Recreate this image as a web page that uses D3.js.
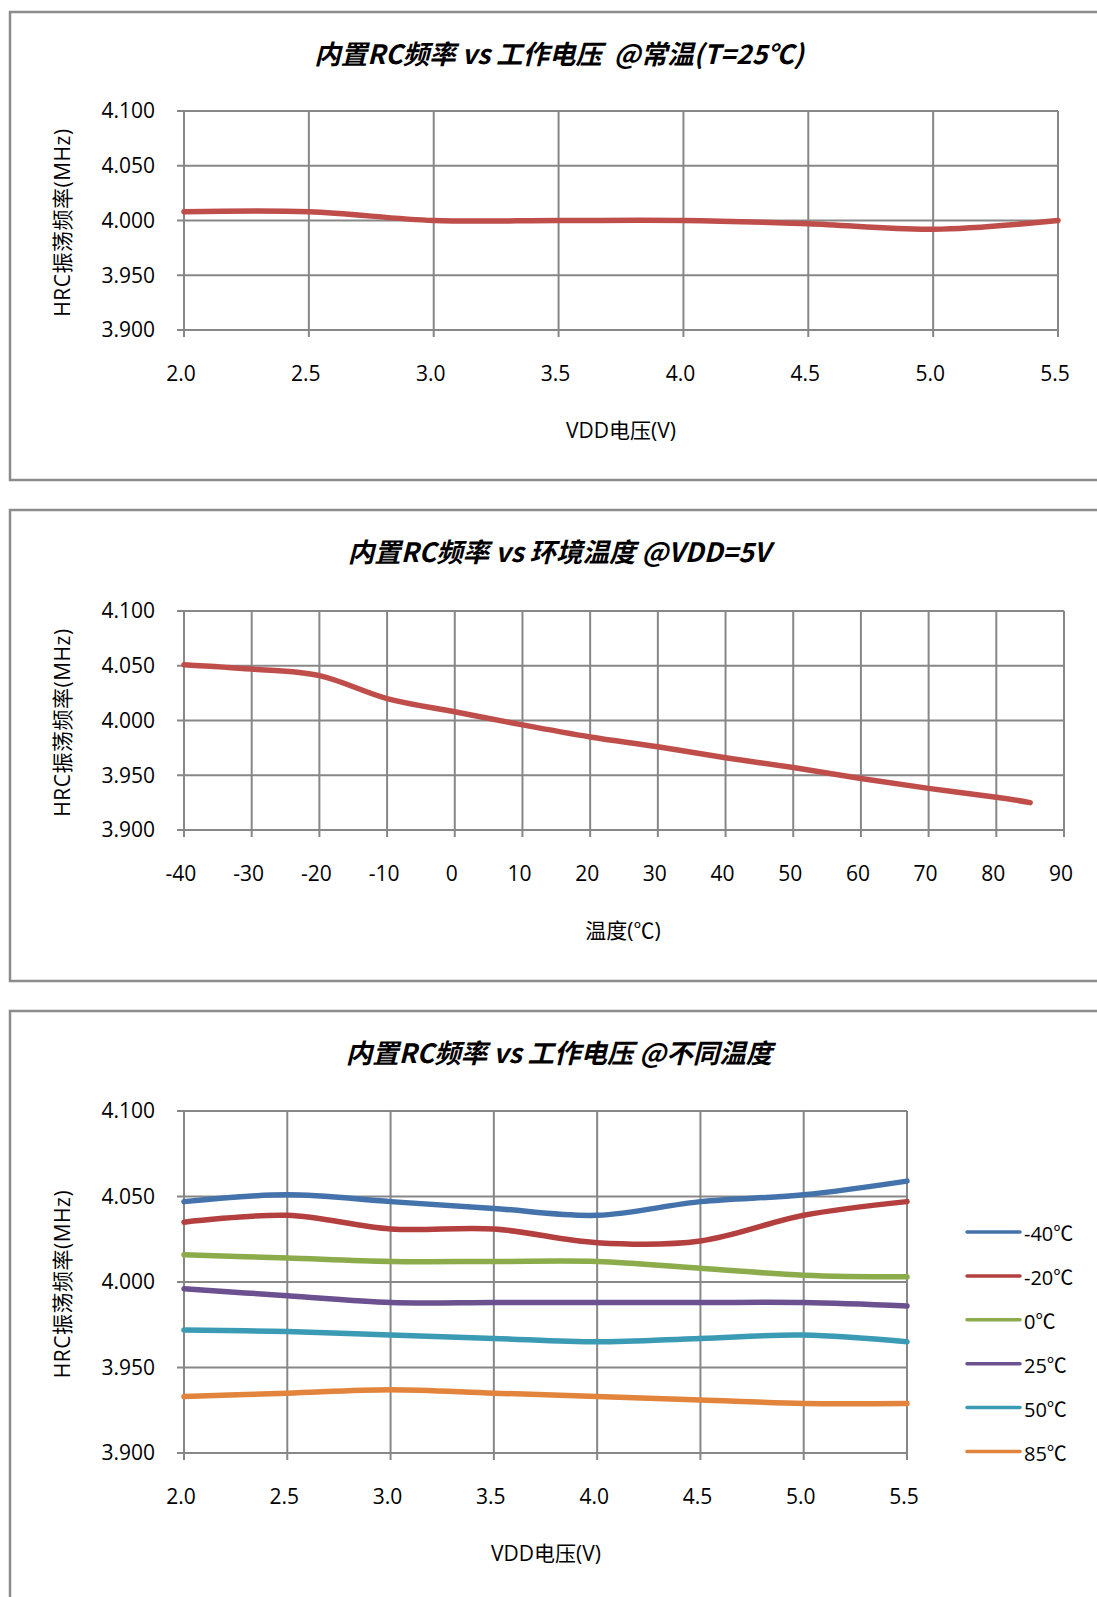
<!DOCTYPE html>
<html>
<head>
<meta charset="utf-8">
<script src="https://cdn.jsdelivr.net/npm/d3@7"></script>
<style>
    body { margin: 0; background: #ffffff; }
    svg { display: block; }
    text { white-space: pre; }
</style>
</head>
<body>
<svg id="chart"></svg>
<script>

// DATA
let vddLevels = [2.0, 2.5, 3.0, 3.5, 4.0, 4.5, 5.0, 5.5]
let freqRoomTemp = [4.008, 4.008, 4.000, 4.000, 4.000, 3.997, 3.992, 4.000]

let tempLevels = [-40, -30, -20, -10, 0, 10, 20, 30, 40, 50, 60, 70, 80, 85]
let freqVsTemp = [4.051, 4.047, 4.041, 4.020, 4.008, 3.996, 3.985, 3.976, 3.966, 3.957, 3.947, 3.938, 3.930, 3.925]

let seriesNames = ['-40℃', '-20℃', '0℃', '25℃', '50℃', '85℃']
let freqMinus40 = [4.047, 4.051, 4.047, 4.043, 4.039, 4.047, 4.051, 4.059]
let freqMinus20 = [4.035, 4.039, 4.031, 4.031, 4.023, 4.024, 4.039, 4.047]
let freq0 = [4.016, 4.014, 4.012, 4.012, 4.012, 4.008, 4.004, 4.003]
let freq25 = [3.996, 3.992, 3.988, 3.988, 3.988, 3.988, 3.988, 3.986]
let freq50 = [3.972, 3.971, 3.969, 3.967, 3.965, 3.967, 3.969, 3.965]
let freq85 = [3.933, 3.935, 3.937, 3.935, 3.933, 3.931, 3.929, 3.929]

let yTicks = [3.900, 3.950, 4.000, 4.050, 4.100]
let vddTicks = [2.0, 2.5, 3.0, 3.5, 4.0, 4.5, 5.0, 5.5]
let tempTicks = [-40, -30, -20, -10, 0, 10, 20, 30, 40, 50, 60, 70, 80, 90]

let singleColour = '#bf4e4b'
let seriesColours = ['#4472aa', '#b3403e', '#8cab4b', '#6c5191', '#3b9bb5', '#e2843b']

let titles = [
    '内置RC频率 vs 工作电压  @常温(T=25℃)',
    '内置RC频率 vs 环境温度 @VDD=5V',
    '内置RC频率 vs 工作电压 @不同温度'
]

let fontLatin = '"Open Sans", "Noto Sans CJK SC", sans-serif'
let fontCJK = '"Noto Sans CJK SC", "Open Sans", sans-serif'
let gridColour = '#878787'

let svg = d3.select('#chart')
    .attr('width', 1097)
    .attr('height', 1597)

function drawPanel(cfg) {

    // FRAME
    svg.append('rect')
        .attr('x', 10)
        .attr('y', cfg.frameTop)
        .attr('width', 1200)
        .attr('height', cfg.frameHeight)
        .attr('fill', 'none')
        .attr('stroke', '#8c8c8c')
        .attr('stroke-width', 2.5)

    let x = d3.scaleLinear()
        .domain(cfg.xDomain)
        .range([cfg.left, cfg.right])
    let y = d3.scaleLinear()
        .domain([3.9, 4.1])
        .range([cfg.bottom, cfg.top])

    let g = svg.append('g')

    // HORIZONTAL GRID + Y TICKS
    g.selectAll('.hgrid')
        .data(yTicks)
        .join('line')
            .attr('x1', cfg.left - 7)
            .attr('x2', cfg.right)
            .attr('y1', d => y(d))
            .attr('y2', d => y(d))
            .attr('stroke', gridColour)
            .attr('stroke-width', 2)

    // VERTICAL GRID + X TICKS
    g.selectAll('.vgrid')
        .data(cfg.xTicks)
        .join('line')
            .attr('x1', d => x(d))
            .attr('x2', d => x(d))
            .attr('y1', cfg.top)
            .attr('y2', cfg.bottom + 7)
            .attr('stroke', gridColour)
            .attr('stroke-width', 2)

    // Y TICK LABELS
    g.selectAll('.ylab')
        .data(yTicks)
        .join('text')
            .attr('x', cfg.left - 29)
            .attr('y', d => y(d))
            .attr('dy', '0.35em')
            .attr('text-anchor', 'end')
            .attr('font-family', fontLatin)
            .attr('font-size', 21)
            .attr('fill', '#000')
            .text(d3.format('.3f'))

    // X TICK LABELS
    g.selectAll('.xlab')
        .data(cfg.xTicks)
        .join('text')
            .attr('x', d => x(d) - 3)
            .attr('y', cfg.bottom + 44)
            .attr('dy', '0.35em')
            .attr('text-anchor', 'middle')
            .attr('font-family', fontLatin)
            .attr('font-size', 21)
            .attr('fill', '#000')
            .text(cfg.xFormat)

    // TITLE
    svg.append('text')
        .attr('x', 559)
        .attr('y', cfg.frameTop + 43)
        .attr('dy', '0.35em')
        .attr('text-anchor', 'middle')
        .attr('font-family', fontCJK)
        .attr('font-size', 26.5)
        .attr('font-weight', 'bold')
        .attr('font-style', 'italic')
        .attr('fill', '#000')
        .text(cfg.title)

    // X AXIS TITLE
    svg.append('text')
        .attr('x', cfg.xTitleX)
        .attr('y', cfg.bottom + 101)
        .attr('dy', '0.35em')
        .attr('text-anchor', 'middle')
        .attr('font-family', fontLatin)
        .attr('font-size', 21)
        .attr('fill', '#000')
        .text(cfg.xTitle)

    // Y AXIS TITLE
    svg.append('text')
        .attr('transform', `translate(63, ${(cfg.top + cfg.bottom) / 2 + 2}) rotate(-90)`)
        .attr('dy', '0.35em')
        .attr('text-anchor', 'middle')
        .attr('font-family', fontLatin)
        .attr('font-size', 21)
        .attr('letter-spacing', 0.5)
        .attr('fill', '#000')
        .text('HRC振荡频率(MHz)')

    // LINES
    let line = d3.line()
        .x(d => x(d[0]))
        .y(d => y(d[1]))
        .curve(d3.curveCardinal.tension(0))

    g.selectAll('.series')
        .data(cfg.series)
        .join('path')
            .attr('d', s => line(cfg.xValues.map((v, i) => [v, s.values[i]])))
            .attr('fill', 'none')
            .attr('stroke', s => s.colour)
            .attr('stroke-width', 5.5)
            .attr('stroke-linecap', 'round')
            .attr('stroke-linejoin', 'round')

    return {x: x, y: y}
}

// PANEL 1
drawPanel({
    frameTop: 12, frameHeight: 468,
    left: 184, right: 1058, top: 111, bottom: 330,
    xDomain: [2.0, 5.5], xTicks: vddTicks, xFormat: d3.format('.1f'),
    xValues: vddLevels,
    series: [{values: freqRoomTemp, colour: singleColour}],
    title: titles[0], xTitle: 'VDD电压(V)', xTitleX: 621
})

// PANEL 2
drawPanel({
    frameTop: 510, frameHeight: 471,
    left: 184, right: 1064, top: 611, bottom: 830,
    xDomain: [-40, 90], xTicks: tempTicks, xFormat: d => String(d),
    xValues: tempLevels,
    series: [{values: freqVsTemp, colour: singleColour}],
    title: titles[1], xTitle: '温度(℃)', xTitleX: 623
})

// PANEL 3
let multiSeries = [freqMinus40, freqMinus20, freq0, freq25, freq50, freq85]
    .map((vals, i) => ({name: seriesNames[i], values: vals, colour: seriesColours[i]}))

drawPanel({
    frameTop: 1011, frameHeight: 700,
    left: 184, right: 907, top: 1111, bottom: 1453,
    xDomain: [2.0, 5.5], xTicks: vddTicks, xFormat: d3.format('.1f'),
    xValues: vddLevels,
    series: multiSeries,
    title: titles[2], xTitle: 'VDD电压(V)', xTitleX: 546
})

// LEGEND
let legend = svg.append('g')
    .selectAll('g')
    .data(multiSeries)
    .join('g')
        .attr('transform', (d, i) => `translate(967, ${1232 + i * 43.9})`)

legend.append('line')
    .attr('x1', 0)
    .attr('x2', 53)
    .attr('stroke', d => d.colour)
    .attr('stroke-width', 3.5)
    .attr('stroke-linecap', 'round')

legend.append('text')
    .attr('x', 57)
    .attr('y', 2)
    .attr('dy', '0.35em')
    .attr('font-family', fontLatin)
    .attr('font-size', 20)
    .attr('fill', '#000')
    .text(d => d.name)

</script>
</body>
</html>
